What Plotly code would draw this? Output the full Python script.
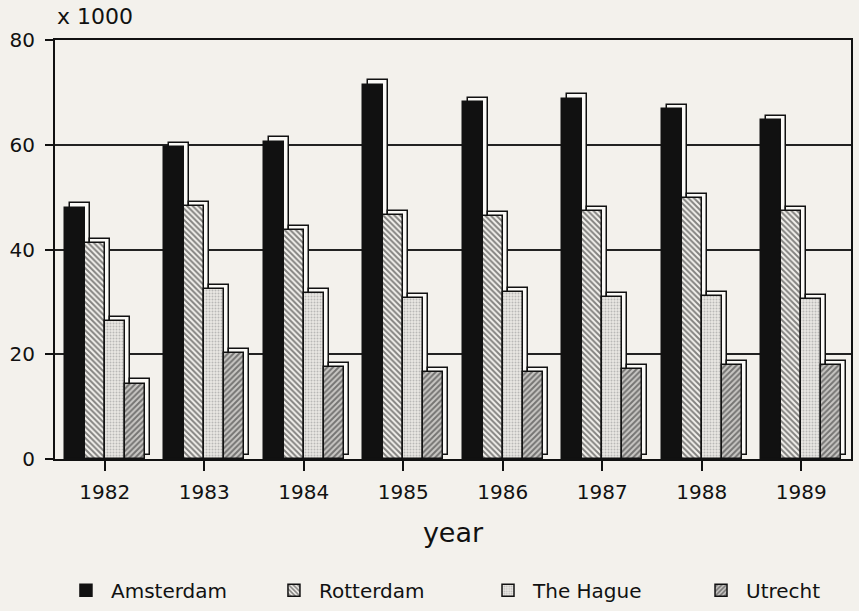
import plotly.graph_objects as go

years = ["1982", "1983", "1984", "1985", "1986", "1987", "1988", "1989"]
amsterdam = [48, 59.5, 60.6, 71.5, 68.2, 68.8, 66.8, 64.7]
rotterdam = [41.2, 48.3, 43.7, 46.6, 46.4, 47.3, 49.8, 47.4]
the_hague = [26.3, 32.5, 31.7, 30.7, 31.8, 30.9, 31.1, 30.5]
utrecht = [14.4, 20.2, 17.5, 16.6, 16.6, 17.2, 18.0, 18.0]
yticks = [0, 20, 40, 60, 80]

series = [
    ("Amsterdam", amsterdam, dict(color="#111111")),
    ("Rotterdam", rotterdam, dict(color="#ffffff",
                                  pattern=dict(shape="\\", fgcolor="#111111", bgcolor="#f4f2ee",
                                               size=4, solidity=0.5))),
    ("The Hague", the_hague, dict(color="#ffffff",
                                  pattern=dict(shape=".", fgcolor="#8a8a8a", bgcolor="#e9e7e3",
                                               size=3, solidity=0.35))),
    ("Utrecht", utrecht, dict(color="#ffffff",
                              pattern=dict(shape="/", fgcolor="#222222", bgcolor="#c9c7c4",
                                           size=4, solidity=0.5))),
]

bar_w = 0.2
depth_x = 0.05
depth_y = 0.8
bg = "#f3f1ec"
FONT = "DejaVu Sans, Verdana, sans-serif"
legend_ids = ["legend", "legend2", "legend3", "legend4"]
legend_x = [0.0075, 0.2688, 0.5377, 0.8053]

fig = go.Figure()
for i, (name, vals, mk) in enumerate(series):
    off = -0.4 + i * bar_w
    # back face (3D depth)
    fig.add_trace(go.Bar(
        x=years, y=vals, base=depth_y, offset=off + depth_x, width=bar_w,
        marker=dict(color="#fbfaf7", line=dict(color="#111111", width=1.5)),
        showlegend=False, hoverinfo="skip"))
    # front face
    m = dict(mk)
    m["line"] = dict(color="#111111", width=1.5)
    fig.add_trace(go.Bar(
        x=years, y=vals, offset=off, width=bar_w, name=name, marker=m,
        legend=legend_ids[i], showlegend=True))

legend_common = dict(orientation="h", xanchor="left", y=-0.313, yanchor="middle",
                     font=dict(size=20, family=FONT), bgcolor="rgba(0,0,0,0)", itemwidth=40)

fig.update_layout(
    width=859, height=611,
    barmode="overlay",
    paper_bgcolor=bg, plot_bgcolor=bg,
    margin=dict(l=55, r=8, t=40, b=152, autoexpand=False),
    font=dict(family=FONT, color="#111111", size=20),
    xaxis=dict(
        type="category", showgrid=False, ticks="outside", ticklen=10, tickcolor="#111111",
        tickwidth=1.5, showline=True, linecolor="#111111", linewidth=2, mirror=True,
        tickfont=dict(size=20), automargin=False, ticklabelstandoff=4,
        title=dict(text="year", font=dict(size=27), standoff=20),
    ),
    yaxis=dict(
        range=[0, 80], tickvals=yticks, ticks="outside", ticklen=8, tickcolor="#111111",
        tickwidth=1.5, showgrid=True, gridcolor="#222222", gridwidth=1.8,
        showline=True, linecolor="#111111", linewidth=2, mirror=True,
        zeroline=False, tickfont=dict(size=20), automargin=False, ticklabelstandoff=6,
    ),
    legend=dict(legend_common, x=legend_x[0]),
    legend2=dict(legend_common, x=legend_x[1]),
    legend3=dict(legend_common, x=legend_x[2]),
    legend4=dict(legend_common, x=legend_x[3]),
    annotations=[dict(text="x 1000", xref="paper", yref="paper", x=0.0, y=1.055,
                      xanchor="left", yanchor="middle", showarrow=False,
                      font=dict(size=22))],
    bargap=0,
)

fig.write_html("out.html", config={"displayModeBar": False},
               post_script="document.body.style.margin='0';")
